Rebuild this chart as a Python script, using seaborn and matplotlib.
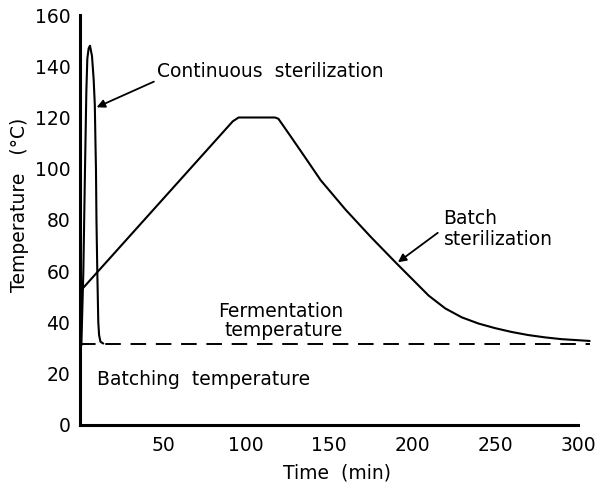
import matplotlib
matplotlib.use("Agg")
import matplotlib.pyplot as plt
import seaborn as sns
import pandas as pd

# Continuous sterilization: rapid heat-up, short hold, flash cooling
cont_time = [0.8, 2.0, 3.0, 3.8, 4.4, 5.2, 6.0, 7.2, 8.2, 8.9, 9.3, 9.6, 9.9,
             10.4, 11.0, 11.5, 12.3, 14.0]
cont_temp = [31, 60, 100, 130, 143, 147, 148, 144, 135, 125, 110, 100, 80,
             60, 40, 35, 32.5, 31.8]

# Batch sterilization: slow heat-up, hold at 120 °C, slow cool-down
batch_time = [1.2, 92, 95.5, 117.5, 119.5, 126.5, 135, 145, 160, 175, 190, 200,
              210, 220, 230, 240, 250, 260, 270, 280, 290, 307]
batch_temp = [53, 118.5, 120, 120, 119.5, 113, 105, 95.5, 84, 73.5, 63.5, 57,
              50.5, 45.5, 42, 39.6, 37.8, 36.3, 35.1, 34.2, 33.5, 32.8]

# Fermentation temperature level
ferm_time = [0, 307]
ferm_temp = [31.8, 31.8]

x_ticks = [50, 100, 150, 200, 250, 300]
y_ticks = [0, 20, 40, 60, 80, 100, 120, 140, 160]

sns.set_style("white")
plt.rcParams["font.family"] = ["DejaVu Sans"]
plt.rcParams["text.color"] = "black"
plt.rcParams["axes.labelcolor"] = "black"

fig = plt.figure(figsize=(6.04, 4.92), dpi=100)
ax = fig.add_axes([0.1325, 0.1362, 0.852, 0.8333])

cont_df = pd.DataFrame({"time": cont_time, "temp": cont_temp})
batch_df = pd.DataFrame({"time": batch_time, "temp": batch_temp})
ferm_df = pd.DataFrame({"time": ferm_time, "temp": ferm_temp})

sns.lineplot(data=cont_df, x="time", y="temp", ax=ax, color="black",
             linewidth=1.5, sort=False, estimator=None)
sns.lineplot(data=batch_df, x="time", y="temp", ax=ax, color="black",
             linewidth=1.5, sort=False, estimator=None)
sns.lineplot(data=ferm_df, x="time", y="temp", ax=ax, color="black",
             linewidth=1.4, estimator=None)
ax.lines[-1].set_dashes([8, 5])

ax.set_xlim(0, 310)
ax.set_ylim(0, 160)
for side in ["top", "right"]:
    ax.spines[side].set_visible(False)
ax.spines["left"].set_bounds(0, 160)
ax.spines["bottom"].set_bounds(0, 300)
for side in ["left", "bottom"]:
    ax.spines[side].set_linewidth(2.2)
    ax.spines[side].set_color("black")

ax.set_xticks(x_ticks)
ax.set_xticklabels([str(v) for v in x_ticks])
ax.set_yticks(y_ticks)
ax.set_yticklabels([str(v) for v in y_ticks])
ax.tick_params(axis="x", direction="in", length=9, width=1.2, pad=8,
               labelsize=13.5, colors="black")
ax.tick_params(axis="y", direction="out", length=4, width=1.6, pad=3,
               labelsize=13.5, colors="black")
ax.yaxis.get_major_ticks()[0].tick1line.set_visible(False)

ax.set_xlabel("Time  (min)", fontsize=13.5, labelpad=6, color="black")
ax.set_ylabel("Temperature   (°C)", fontsize=13.5, color="black")
ax.yaxis.set_label_coords(-0.1, 0.537)

ax.text(46.5, 138, "Continuous  sterilization", fontsize=13.5, va="center",
        ha="left", color="black")
ax.annotate("", xy=(10.0, 124), xytext=(44.5, 134),
            arrowprops=dict(arrowstyle="-|>", color="black", lw=1.3,
                            mutation_scale=12, shrinkA=0, shrinkB=0))

ax.text(219, 76.5, "Batch\nsterilization", fontsize=13.5, va="center", ha="left",
        linespacing=1.1, color="black")
ax.annotate("", xy=(191.5, 63.5), xytext=(215.5, 75),
            arrowprops=dict(arrowstyle="-|>", color="black", lw=1.3,
                            mutation_scale=12, shrinkA=0, shrinkB=0))

ax.text(158.5, 40.5, "Fermentation\ntemperature", fontsize=13.5, va="center",
        ha="right", multialignment="right", linespacing=1.0, color="black")
ax.text(10.2, 17.6, "Batching  temperature", fontsize=13.5, va="center",
        ha="left", color="black")

fig.savefig("out.png", dpi=100, facecolor="white")
